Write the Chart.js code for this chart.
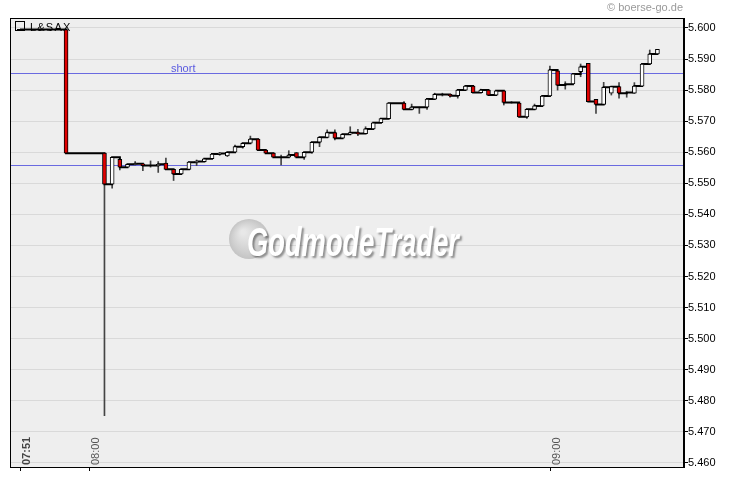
<!DOCTYPE html>
<html><head><meta charset="utf-8">
<script src="https://cdn.jsdelivr.net/npm/chart.js@4.4.1/dist/chart.umd.min.js"></script>
<style>html,body{margin:0;padding:0;background:#fff;}#wrap{width:730px;height:481px;position:relative;}</style>
</head><body><div id="wrap"><canvas id="c"></canvas></div>
<script>
// minutes after 07:00
const minutes = [51,57,62,63,64,65,66,67,68,69,70,71,72,73,74,75,76,77,78,79,80,81,82,83,84,85,86,87,88,89,90,91,92,93,94,95,96,97,98,99,100,101,102,103,104,105,106,107,108,109,110,111,112,113,114,115,116,117,118,119,120,121,122,123,124,125,126,127,128,129,130,131,132,133,134];
const opens  = [5.5995,5.5995,5.5597,5.5497,5.5577,5.5552,5.5561,5.5563,5.5557,5.5557,5.5565,5.5545,5.5530,5.5545,5.5568,5.5570,5.5579,5.5594,5.5588,5.5600,5.5618,5.5629,5.5642,5.5607,5.5597,5.5584,5.5584,5.5599,5.5584,5.5600,5.5632,5.5648,5.5663,5.5645,5.5658,5.5663,5.5660,5.5675,5.5695,5.5708,5.5758,5.5758,5.5738,5.5745,5.5745,5.5771,5.5786,5.5786,5.5782,5.5800,5.5813,5.5792,5.5800,5.5784,5.5798,5.5760,5.5758,5.5714,5.5738,5.5749,5.5781,5.5862,5.5819,5.5820,5.5859,5.5886,5.5770,5.5754,5.5790,5.5811,5.5792,5.5790,5.5813,5.5884,5.5916];
const highs  = [5.5995,5.5995,5.5597,5.5584,5.5584,5.5561,5.5570,5.5563,5.5572,5.5570,5.5581,5.5545,5.5545,5.5568,5.5575,5.5579,5.5594,5.5599,5.5600,5.5623,5.5629,5.5652,5.5642,5.5607,5.5597,5.5591,5.5605,5.5599,5.5600,5.5632,5.5648,5.5672,5.5672,5.5658,5.5682,5.5674,5.5682,5.5695,5.5708,5.5758,5.5758,5.5763,5.5755,5.5745,5.5771,5.5790,5.5790,5.5786,5.5800,5.5813,5.5813,5.5803,5.5800,5.5798,5.5798,5.5763,5.5758,5.5738,5.5755,5.5781,5.5877,5.5862,5.5827,5.5852,5.5884,5.5886,5.5770,5.5825,5.5811,5.5824,5.5795,5.5824,5.5884,5.5929,5.5931];
const lows   = [5.5995,5.5597,5.4752,5.5484,5.5543,5.5552,5.5561,5.5541,5.5552,5.5535,5.5545,5.5509,5.5530,5.5545,5.5557,5.5570,5.5579,5.5590,5.5586,5.5600,5.5613,5.5629,5.5607,5.5597,5.5584,5.5559,5.5584,5.5584,5.5577,5.5597,5.5618,5.5648,5.5640,5.5645,5.5658,5.5653,5.5660,5.5675,5.5695,5.5708,5.5758,5.5738,5.5738,5.5725,5.5738,5.5771,5.5781,5.5777,5.5774,5.5800,5.5792,5.5792,5.5784,5.5784,5.5752,5.5758,5.5714,5.5709,5.5738,5.5749,5.5781,5.5800,5.5803,5.5820,5.5843,5.5763,5.5725,5.5754,5.5784,5.5774,5.5777,5.5790,5.5813,5.5884,5.5916];
const closes = [5.5995,5.5597,5.5497,5.5584,5.5552,5.5561,5.5563,5.5557,5.5557,5.5561,5.5545,5.5530,5.5545,5.5568,5.5570,5.5579,5.5594,5.5596,5.5600,5.5618,5.5629,5.5642,5.5607,5.5597,5.5584,5.5584,5.5591,5.5584,5.5600,5.5632,5.5648,5.5663,5.5645,5.5658,5.5663,5.5660,5.5675,5.5695,5.5708,5.5758,5.5758,5.5738,5.5745,5.5745,5.5771,5.5786,5.5786,5.5782,5.5800,5.5813,5.5792,5.5800,5.5784,5.5798,5.5760,5.5760,5.5714,5.5738,5.5749,5.5781,5.5865,5.5816,5.5819,5.5852,5.5875,5.5763,5.5754,5.5809,5.5811,5.5790,5.5792,5.5813,5.5884,5.5916,5.5931];

const yTicks = [5.46,5.47,5.48,5.49,5.50,5.51,5.52,5.53,5.54,5.55,5.56,5.57,5.58,5.59,5.60];
const xTickMinutes = [51,60,120];
const xTickLabels = ['07:51','08:00','09:00'];
const xTickBold = [true,false,false];
const levelValues = [5.5855,5.5559];
const levelLabels = ['short',''];
const seriesName = 'L&SAX';
const copyright = '\u00A9 boerse-go.de';
const watermark = 'GodmodeTrader';

const RED = '#e00000';
const lineData = minutes.map((m,i)=>({x:m,y:closes[i]}));
const wickData = minutes.map((m,i)=>({x:m,y:[lows[i],highs[i]]})).filter(d=>d.y[0]!==d.y[1]);
const bodyIdx = minutes.map((m,i)=>i).filter(i=>opens[i]!==closes[i]);
const bodyData = bodyIdx.map(i=>({x:minutes[i],y:[opens[i],closes[i]]}));
const bodyColors = bodyIdx.map(i=>closes[i]<opens[i]?RED:'#ffffff');

Chart.defaults.font.family = "'Liberation Sans', Arial, sans-serif";

const deco = {
  id:'deco',
  beforeDraw(chart){
    const {ctx, chartArea:a} = chart;
    ctx.save();
    ctx.fillStyle = '#eeeeee';
    ctx.fillRect(a.left, a.top, a.right-a.left, a.bottom-a.top);
    ctx.restore();
  },
  beforeDatasetsDraw(chart){
    const {ctx, chartArea:a, scales:{y}} = chart;
    ctx.save();
    // watermark
    const cx = 249, cy = 239, r = 20;
    const g = ctx.createRadialGradient(cx-6, cy-7, 2, cx, cy, r);
    g.addColorStop(0,'#e8e8e8'); g.addColorStop(0.7,'#d0d0d0'); g.addColorStop(1,'#c4c4c4');
    ctx.fillStyle = g;
    ctx.beginPath(); ctx.arc(cx, cy, r, 0, Math.PI*2); ctx.fill();
    ctx.font = 'italic bold 40px "Liberation Sans", Arial, sans-serif';
    const w = ctx.measureText(watermark).width;
    ctx.translate(247, 256);
    ctx.scale(212/w, 1);
    ctx.shadowColor = 'rgba(0,0,0,0.4)';
    ctx.shadowOffsetX = 2; ctx.shadowOffsetY = 2; ctx.shadowBlur = 2;
    ctx.fillStyle = '#ffffff';
    ctx.textBaseline = 'alphabetic';
    ctx.fillText(watermark, 0, 0);
    ctx.restore();
    // level lines
    ctx.save();
    ctx.strokeStyle = '#6a6ae0';
    ctx.lineWidth = 1;
    levelValues.forEach((v,i)=>{
      const py = Math.round(y.getPixelForValue(v)) + 0.5;
      ctx.beginPath(); ctx.moveTo(a.left, py); ctx.lineTo(a.right, py); ctx.stroke();
      if (levelLabels[i]) {
        ctx.fillStyle = '#5a5ae0';
        ctx.font = '11px "Liberation Sans", Arial, sans-serif';
        ctx.textBaseline = 'alphabetic';
        ctx.fillText(levelLabels[i], 171, py - 2);
      }
    });
    ctx.restore();
  },
  afterDatasetsDraw(chart){
    const {ctx, chartArea:a, scales:{x}} = chart;
    ctx.save();
    // border
    ctx.strokeStyle = '#000'; ctx.lineWidth = 1;
    ctx.strokeRect(a.left+0.5, a.top+0.5, a.right-a.left-1, a.bottom-a.top);
    // legend
    ctx.strokeRect(15.5, 21.5, 9, 9);
    ctx.fillStyle = '#000';
    ctx.fillRect(17, 29, 5, 2);
    ctx.font = '11px "Liberation Sans", Arial, sans-serif';
    ctx.textBaseline = 'alphabetic';
    ctx.letterSpacing = '1.2px';
    ctx.fillText(seriesName, 30, 31);
    ctx.letterSpacing = '0px';
    // x ticks
    xTickMinutes.forEach((m,i)=>{
      const px = Math.round(x.getPixelForValue(m)) + 0.5;
      ctx.strokeStyle = '#000';
      ctx.beginPath(); ctx.moveTo(px, a.bottom); ctx.lineTo(px, a.bottom+4); ctx.stroke();
      ctx.save();
      ctx.translate(px + 9.5, a.bottom - 2);
      ctx.rotate(-Math.PI/2);
      ctx.fillStyle = xTickBold[i] ? '#444' : '#555';
      ctx.font = (xTickBold[i] ? 'bold ' : '') + '11px "Liberation Sans", Arial, sans-serif';
      ctx.textAlign = 'left';
      ctx.textBaseline = 'alphabetic';
      ctx.fillText(xTickLabels[i], 0, 0);
      ctx.restore();
    });
    // copyright
    ctx.fillStyle = '#9a9a9a';
    ctx.font = '11px "Liberation Sans", Arial, sans-serif';
    ctx.textAlign = 'right';
    ctx.textBaseline = 'alphabetic';
    ctx.fillText(copyright, 683, 11);
    ctx.restore();
  }
};

new Chart(document.getElementById('c'), {
  type: 'bar',
  data: {
    datasets: [
      {type:'bar', label:'wick', data:wickData, backgroundColor:'#444', borderWidth:0, barThickness:1, grouped:false, order:3},
      {type:'line', label:seriesName, data:lineData, stepped:'before', borderColor:'#000', borderWidth:2, pointRadius:0, fill:false, order:2},
      {type:'bar', label:'body', data:bodyData, backgroundColor:bodyColors, borderColor:'#000', borderWidth:1, borderSkipped:false, barThickness:4, grouped:false, order:1}
    ]
  },
  options: {
    responsive:true, maintainAspectRatio:false, animation:false,
    layout:{padding:{left:10, top:18, right:0, bottom:14}},
    plugins:{legend:{display:false}, tooltip:{enabled:false}},
    scales:{
      x:{type:'linear', min:49.7, max:137.46, display:false, offset:false},
      y:{position:'right', min:5.4587, max:5.6032,
         afterFit(s){ s.width = 46; },
         afterBuildTicks(s){ s.ticks = yTicks.map(v=>({value:v})); },
         ticks:{callback:v=>Number(v).toFixed(3), color:'#000', font:{size:11}, padding:0},
         grid:{color:'#d9d9d9', tickColor:'#000', tickLength:4},
         border:{color:'#000'}
      }
    }
  },
  plugins:[deco]
});
</script>
</body></html>
